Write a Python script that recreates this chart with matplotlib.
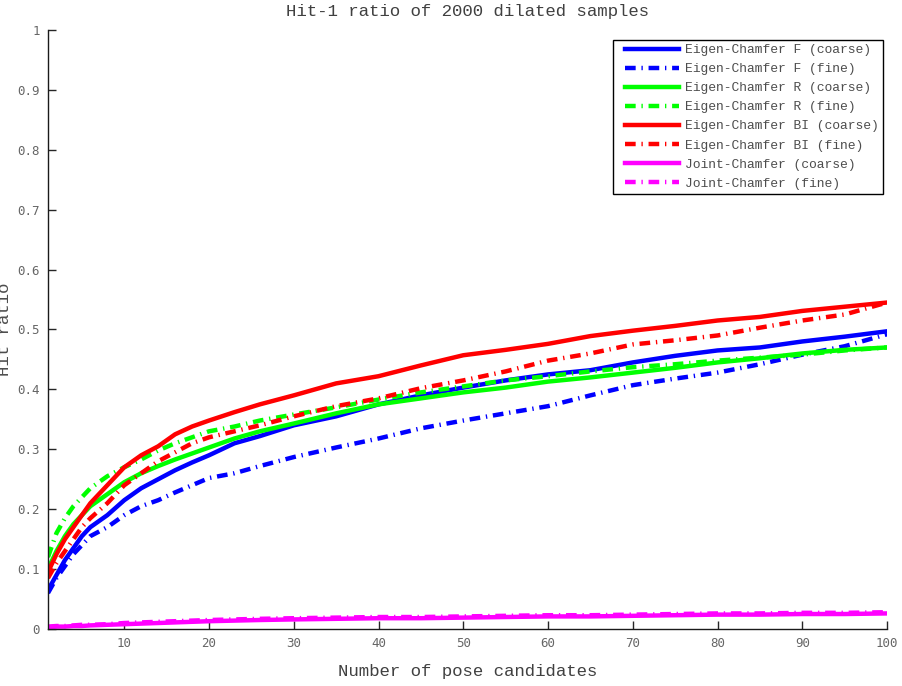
import numpy as np
import matplotlib
matplotlib.use('Agg')
import matplotlib.pyplot as plt
from matplotlib.lines import Line2D
from matplotlib.legend_handler import HandlerLine2D

# number of pose candidates at which each curve is sampled
x = [1, 2, 3, 4, 5, 6, 8, 10, 12, 14, 16, 18, 20, 23, 26, 30, 35, 40, 45,
     50, 55, 60, 65, 70, 75, 80, 85, 90, 95, 100]

f_coarse = [0.065, 0.090, 0.115, 0.135, 0.155, 0.170, 0.190, 0.215, 0.235, 0.250,
            0.265, 0.278, 0.290, 0.310, 0.322, 0.340, 0.355, 0.375, 0.390, 0.403,
            0.415, 0.425, 0.432, 0.445, 0.456, 0.465, 0.470, 0.480, 0.488, 0.497]
f_fine = [0.060, 0.085, 0.105, 0.125, 0.140, 0.155, 0.170, 0.190, 0.205, 0.215,
          0.228, 0.240, 0.252, 0.260, 0.272, 0.287, 0.303, 0.318, 0.335, 0.348,
          0.360, 0.372, 0.390, 0.407, 0.418, 0.428, 0.442, 0.458, 0.472, 0.492]
r_coarse = [0.100, 0.130, 0.155, 0.175, 0.190, 0.205, 0.225, 0.245, 0.260, 0.272,
            0.283, 0.293, 0.303, 0.318, 0.330, 0.343, 0.360, 0.375, 0.385, 0.395,
            0.403, 0.413, 0.420, 0.428, 0.436, 0.445, 0.452, 0.460, 0.466, 0.470]
r_fine = [0.120, 0.160, 0.185, 0.205, 0.220, 0.235, 0.255, 0.270, 0.283, 0.298,
          0.310, 0.320, 0.330, 0.338, 0.348, 0.358, 0.370, 0.383, 0.395, 0.405,
          0.415, 0.422, 0.430, 0.437, 0.442, 0.448, 0.453, 0.458, 0.465, 0.470]
bi_coarse = [0.095, 0.125, 0.150, 0.170, 0.190, 0.210, 0.240, 0.270, 0.290, 0.305,
             0.325, 0.338, 0.348, 0.362, 0.375, 0.390, 0.410, 0.422, 0.440, 0.457,
             0.466, 0.476, 0.489, 0.498, 0.506, 0.515, 0.521, 0.531, 0.538, 0.545]
bi_fine = [0.085, 0.110, 0.130, 0.150, 0.170, 0.185, 0.210, 0.240, 0.260, 0.280,
           0.295, 0.310, 0.320, 0.330, 0.340, 0.355, 0.372, 0.385, 0.402, 0.415,
           0.430, 0.448, 0.460, 0.475, 0.482, 0.490, 0.503, 0.515, 0.525, 0.545]
joint_coarse = [0.003, 0.004, 0.004, 0.005, 0.005, 0.006, 0.007, 0.008, 0.009, 0.010,
                0.011, 0.012, 0.013, 0.014, 0.015, 0.016, 0.017, 0.018, 0.018, 0.019,
                0.020, 0.021, 0.021, 0.022, 0.023, 0.024, 0.024, 0.025, 0.025, 0.026]
joint_fine = [0.004, 0.005, 0.005, 0.006, 0.007, 0.007, 0.008, 0.010, 0.011, 0.012,
              0.013, 0.014, 0.015, 0.016, 0.017, 0.018, 0.019, 0.020, 0.020, 0.021,
              0.022, 0.023, 0.023, 0.024, 0.025, 0.026, 0.026, 0.027, 0.027, 0.028]

series = [
    ('Eigen-Chamfer F (coarse)', f_coarse, '#0000ff', '-'),
    ('Eigen-Chamfer F (fine)', f_fine, '#0000ff', '-.'),
    ('Eigen-Chamfer R (coarse)', r_coarse, '#00ff00', '-'),
    ('Eigen-Chamfer R (fine)', r_fine, '#00ff00', '-.'),
    ('Eigen-Chamfer BI (coarse)', bi_coarse, '#ff0000', '-'),
    ('Eigen-Chamfer BI (fine)', bi_fine, '#ff0000', '-.'),
    ('Joint-Chamfer (coarse)', joint_coarse, '#ff00ff', '-'),
    ('Joint-Chamfer (fine)', joint_fine, '#ff00ff', '-.'),
]

plt.rcParams['font.family'] = ['Liberation Mono', 'DejaVu Sans Mono']

fig = plt.figure(figsize=(9.02, 6.86), dpi=100)
ax = fig.add_axes([0.0532, 0.0831, 0.9302, 0.8732])

for name, vals, col, ls in series:
    line, = ax.plot(x, vals, color=col, lw=3.2, label=name)
    if ls == '-.':
        line.set_dashes([2.4, 1.3, 0.3, 1.3])

ax.set_xlim(1, 100)
ax.set_ylim(0, 1)
ax.set_xticks(range(10, 101, 10))
ax.set_yticks(np.arange(0, 1.01, 0.1))
ax.set_yticklabels(['0', '0.1', '0.2', '0.3', '0.4', '0.5', '0.6', '0.7', '0.8', '0.9', '1'])

for side in ['top', 'right']:
    ax.spines[side].set_visible(False)
for side in ['left', 'bottom']:
    ax.spines[side].set_color('0.1')
    ax.spines[side].set_linewidth(1)
ax.tick_params(direction='in', length=6, width=1, color='0.15',
               labelcolor='0.4', labelsize=9, pad=6)
for lab in ax.get_xticklabels() + ax.get_yticklabels():
    lab.set_family('DejaVu Sans Mono')

ax.set_title('Hit-1 ratio of 2000 dilated samples', fontsize=12.5, color='0.25', pad=10)
ax.set_xlabel('Number of pose candidates', fontsize=12.5, color='0.25', labelpad=10)
ax.set_ylabel('Hit ratio', fontsize=12.5, color='0.3')
ax.yaxis.set_label_coords(-0.043, 0.5)

# legend handles sit a little right of the frame edge
leg = ax.legend(loc='upper right', bbox_to_anchor=(0.995, 0.983), fontsize=9.4,
                handlelength=4.7, labelspacing=0.53, borderpad=0.3, handletextpad=0.5,
                fancybox=False, framealpha=1, borderaxespad=0,
                handler_map={Line2D: HandlerLine2D(xpad=0.6)})
leg.get_frame().set_edgecolor('black')
leg.get_frame().set_linewidth(1)
for t in leg.get_texts():
    t.set_color('0.3')

fig.savefig('out.png', dpi=100)
